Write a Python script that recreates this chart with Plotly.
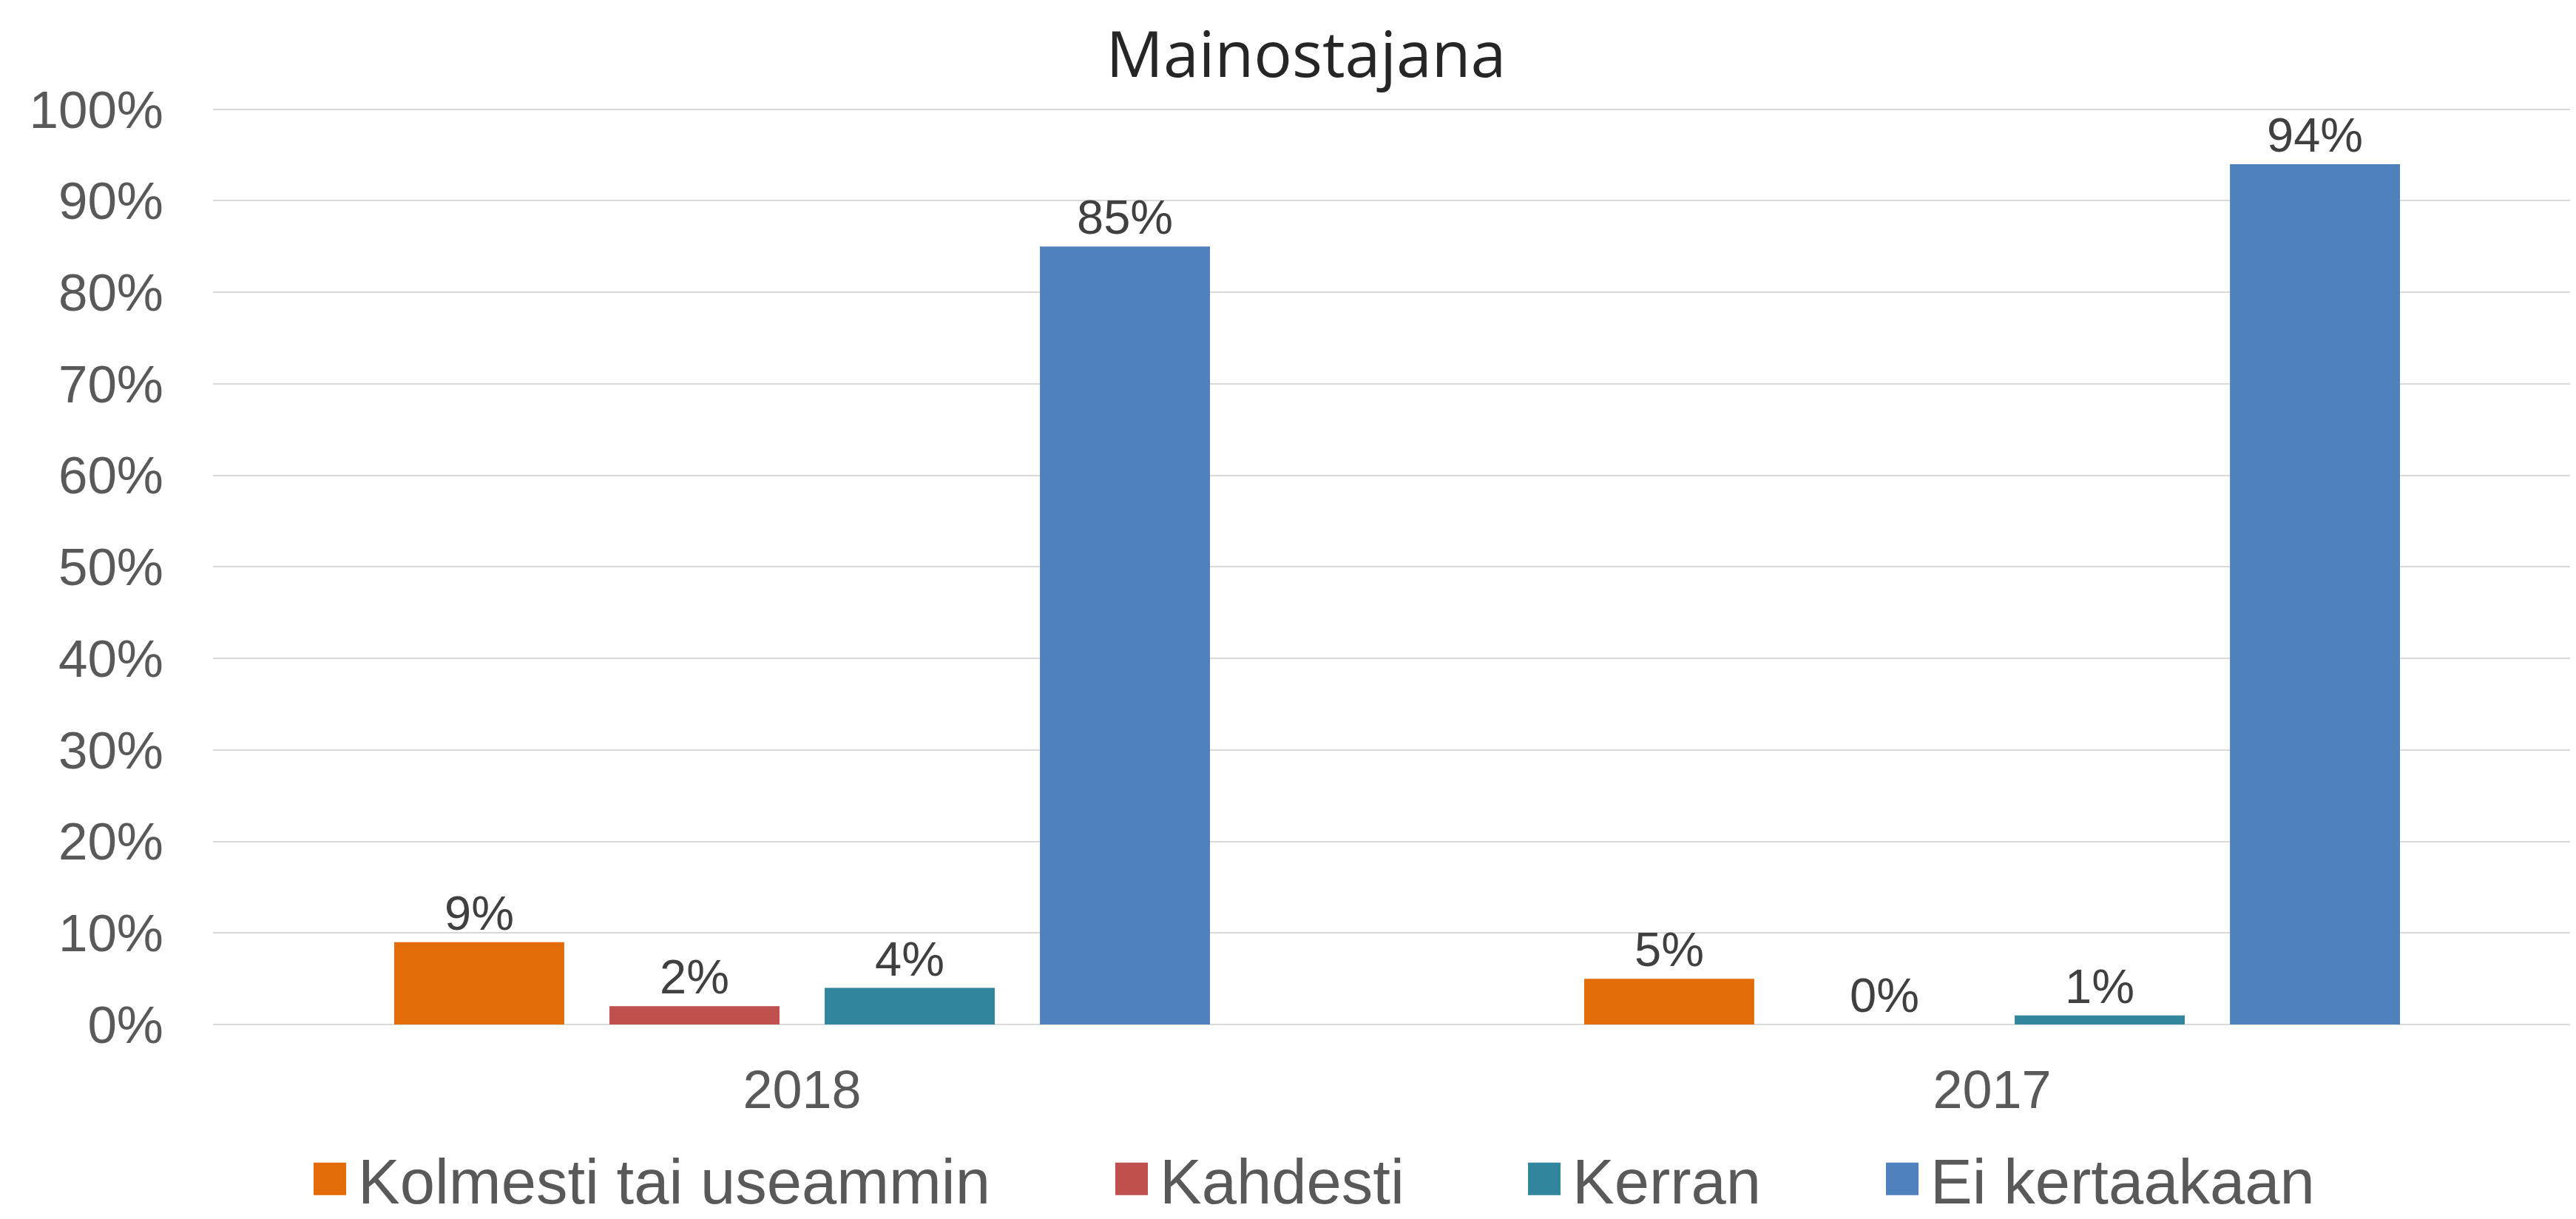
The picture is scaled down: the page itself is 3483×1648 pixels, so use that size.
import plotly.graph_objects as go

# ---- data ----
categories = ["2018", "2017"]
series_names = ["Kolmesti tai useammin", "Kahdesti", "Kerran", "Ei kertaakaan"]
kolmesti = [0.09, 0.05]
kahdesti = [0.02, 0.00]
kerran = [0.04, 0.01]
ei_kertaakaan = [0.85, 0.94]
y_ticks = [0, 0.1, 0.2, 0.3, 0.4, 0.5, 0.6, 0.7, 0.8, 0.9, 1.0]

series_values = [kolmesti, kahdesti, kerran, ei_kertaakaan]
colors = ["#E36C09", "#C0504D", "#31859C", "#4F81BD"]

W, H = 3483, 1648
plot_left, y100_px, plot_bottom = 280, 140, 1377
cat_px = 1609  # pixel width of one category
x_shift_px = 8
y_top = 1.003
px_per_unit = plot_bottom - y100_px
plot_top = y100_px - (y_top - 1.0) * px_per_unit

legend_px = [400, 1484, 2042, 2526]  # legend box left edges (px)

fig = go.Figure()
legend_ids = ["legend", "legend2", "legend3", "legend4"]
for name, vals, col, lid in zip(series_names, series_values, colors, legend_ids):
    fig.add_trace(go.Bar(
        x=categories, y=vals, name=name, marker=dict(color=col, line=dict(width=0)),
        texttemplate="%{y:.0%}", textposition="outside", cliponaxis=False,
        constraintext="none",
        textfont=dict(family="Liberation Sans, Arial, sans-serif", size=65, color="#404040"),
        legend=lid,
    ))

plot_w = W - plot_left
x0 = -0.5 + x_shift_px / cat_px
x_range = [x0, x0 + plot_w / cat_px]

legend_common = dict(
    orientation="h", xref="container", yref="container", xanchor="left", yanchor="bottom",
    y=0, bgcolor="rgba(0,0,0,0)", borderwidth=0, itemwidth=66,
    font=dict(family="Liberation Sans, Arial, sans-serif", size=85, color="#595959"),
)
layout_legends = {}
for lid, px in zip(legend_ids, legend_px):
    layout_legends[lid] = dict(legend_common, x=px / W)

fig.update_layout(
    width=W, height=H,
    paper_bgcolor="white", plot_bgcolor="white",
    margin=dict(l=plot_left, r=0, t=plot_top, b=H - plot_bottom, pad=0),
    barmode="group", bargap=0.2765, bargroupgap=0.21,
    title=dict(text="Mainostajana", x=1758 / W, xref="container", xanchor="center",
               y=1 - 66 / H, yref="container", yanchor="middle",
               font=dict(family="Open Sans, sans-serif", size=86, color="#262626")),
    xaxis=dict(type="category", range=x_range, showgrid=False, showline=False, zeroline=False,
               ticks="", ticklabelstandoff=40,
               tickfont=dict(family="Liberation Sans, Arial, sans-serif", size=72, color="#595959")),
    yaxis=dict(range=[0, y_top], tickvals=y_ticks, tickformat=".0%", showgrid=True,
               gridcolor="#D9D9D9", gridwidth=2, zeroline=True, zerolinecolor="#D9D9D9",
               zerolinewidth=2, showline=False, ticks="", ticklabelstandoff=66,
               tickfont=dict(family="Liberation Sans, Arial, sans-serif", size=71, color="#595959")),
    showlegend=True,
    **layout_legends,
)

post = """
var gd = document.getElementById('{plot_id}');
gd.querySelectorAll('g.legendpoints path').forEach(function(p){
  p.setAttribute('d','M22,22H-22V-22H22Z');
});
"""
fig.write_html("out.html", post_script=post)
